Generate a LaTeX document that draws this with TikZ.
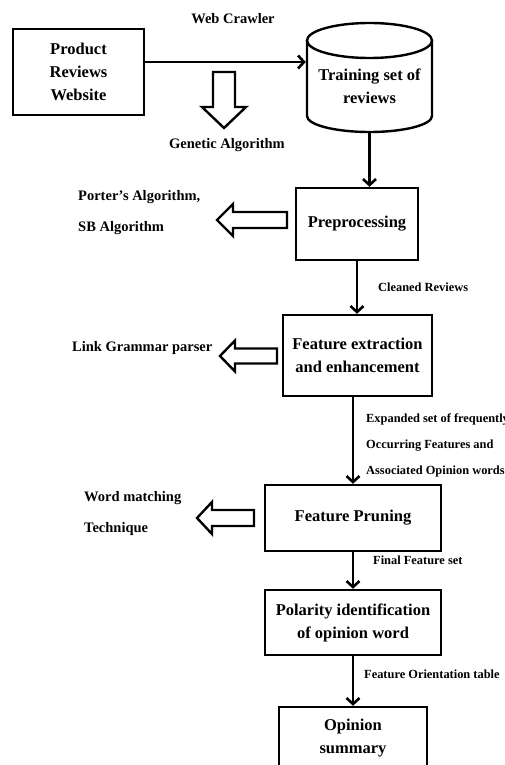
\documentclass[tikz,border=0pt]{standalone}
\usepackage{fontspec}
\setmainfont{Liberation Serif}
\usetikzlibrary{arrows.meta,positioning}
\begin{document}
\begin{tikzpicture}[x=1pt, y=1pt,
    box/.style={rectangle, draw, line width=2.4pt, align=center, font=\bfseries\fontsize{16.5}{23}\selectfont, inner sep=0pt},
    flowlbl/.style={anchor=west, align=left, font=\bfseries\fontsize{12.4}{26}\selectfont, inner sep=0pt},
    sidelbl/.style={anchor=west, align=left, font=\bfseries\fontsize{14.5}{31}\selectfont, inner sep=0pt},
    arrow/.style={-{Straight Barb[length=6pt,width=13pt]}, line width=2.6pt},
    hollow/.style={draw, line width=2.4pt, line join=miter, fill=white}
]
    \useasboundingbox (0,0) rectangle (505,-765);

    % Source and review store
    \node[box, minimum width=131pt, minimum height=86pt] (prod) at (78.5,-72) {Product\\Reviews\\Website};
    \draw[line width=2.4pt] (307,-40.5) -- (307,-116) arc[start angle=180, end angle=360, x radius=62.5, y radius=16] -- (432,-40.5);
    \draw[line width=2.4pt] (369.5,-40.5) ellipse [x radius=62.5, y radius=17.5];
    \node[box, draw=none, minimum width=125pt, minimum height=91pt] (cyl) at (369.5,-86.5) {Training set of\\reviews};

    % Processing steps
    \node[box, minimum width=122pt, minimum height=72pt] (pre) at (357,-224) {Preprocessing};
    \node[box, minimum width=149pt, minimum height=81pt] (feat) at (357.5,-355.5) {Feature extraction\\and enhancement};
    \node[box, minimum width=176pt, minimum height=66pt] (prune) at (353,-518) {Feature Pruning};
    \node[box, minimum width=176pt, minimum height=65pt] (pol) at (353,-622.5) {Polarity identification\\of opinion word};
    \node[box, minimum width=148pt, minimum height=63pt] (opin) at (353,-738.5) {Opinion\\summary};

    % Arrows
    \draw[arrow] ([yshift=10pt]prod.east) -- ([yshift=10pt]prod.east -| cyl.west);
    \draw[arrow] (cyl.south) -- (cyl.south |- pre.north);
    \draw[arrow] (pre.south) -- (pre.south |- feat.north);
    \draw[arrow] (prune.north |- feat.south) -- (prune.north);
    \draw[arrow] (prune) -- (pol);
    \draw[arrow] (pol) -- (opin);

    % Labels on the flow
    \node[sidelbl, anchor=center] (crawl) at (233,-19) {Web Crawler};
    \node[sidelbl, anchor=center] (genetic) at (227,-145) {Genetic Algorithm};
    \node[flowlbl] (clean) at (378,-287) {Cleaned Reviews};
    \node[flowlbl] (expand) at (366,-445) {Expanded set of frequently\\Occurring Features and\\Associated Opinion words};
    \node[flowlbl] (final) at (373,-560) {Final Feature set};
    \node[flowlbl] (orient) at (364,-674) {Feature Orientation table};

    % Techniques
    \node[sidelbl] (porter) at (78,-212.5) {Porter’s Algorithm,\\SB Algorithm};
    \node[sidelbl] (link) at (72,-348) {Link Grammar parser};
    \node[sidelbl] (wordm) at (84,-514) {Word matching\\Technique};

    % Hollow arrows
    \draw[hollow] (213,-72) -- (213,-107) -- (202,-107) -- (224,-128) -- (246,-107) -- (235,-107) -- (235,-72) -- cycle;
    \draw[hollow] (287,-212) -- (233,-212) -- (233,-204) -- (217,-220) -- (233,-236) -- (233,-228) -- (287,-228) -- cycle;
    \draw[hollow] (277,-348.5) -- (235,-348.5) -- (235,-340.5) -- (220,-356) -- (235,-371.5) -- (235,-363.5) -- (277,-363.5) -- cycle;
    \draw[hollow] (254,-510) -- (212,-510) -- (212,-502) -- (197,-518) -- (212,-534) -- (212,-526) -- (254,-526) -- cycle;
\end{tikzpicture}
\end{document}
